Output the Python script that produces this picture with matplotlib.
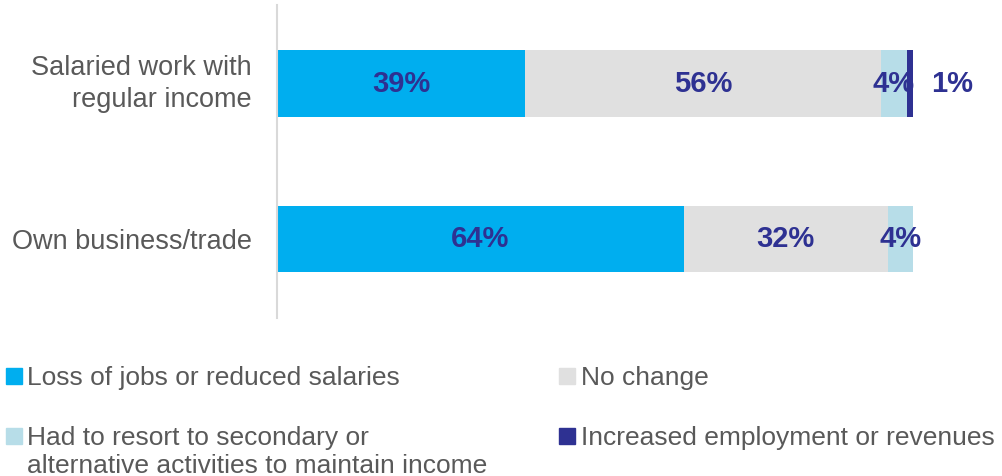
import matplotlib.pyplot as plt
from matplotlib.patches import Rectangle
from matplotlib.transforms import ScaledTranslation

categories = ['Own business/trade', 'Salaried work with\nregular income']
series_names = ['Loss of jobs or reduced salaries', 'No change',
                'Had to resort to secondary or\nalternative activities to maintain income',
                'Increased employment or revenues']
loss = [64, 39]
no_change = [32, 56]
had_to = [4, 4]
increased = [0, 1]

colors = ['#00AEEF', '#E0E0E0', '#B7DDE8', '#2E3192']
label_color = '#2E3192'
text_color = '#595959'
font = ['Liberation Sans', 'DejaVu Sans']

fig = plt.figure(figsize=(10.03, 4.76), dpi=100)
ax = fig.add_axes([277 / 1003, 1 - 318 / 476, (913 - 277) / 1003, 313 / 476])

y = [0, 1]
left = [0, 0]
all_series = [loss, no_change, had_to, increased]
for vals, col in zip(all_series, colors):
    ax.barh(y, vals, left=left, height=0.43, color=col)
    for i, (v, l) in enumerate(zip(vals, left)):
        if v == 0:
            continue
        if v < 2:
            # tiny segment: put the label outside the bar end
            ax.annotate(f'{v}%', (l + v, y[i]), xytext=(13, 0), textcoords='offset points',
                        ha='left', va='center', color=label_color, fontsize=21,
                        fontweight='bold', family=font)
        else:
            ax.text(l + v / 2, y[i], f'{v}%', ha='center', va='center', color=label_color,
                    fontsize=21, fontweight='bold', family=font)
    left = [a + b for a, b in zip(left, vals)]

ax.set_xlim(0, 100)
ax.set_ylim(-0.508, 1.505)
ax.set_yticks(y)
ax.set_yticklabels(categories, fontsize=19.5, color=text_color, family=font, linespacing=1.3)
ax.tick_params(axis='y', length=0, pad=18)
# nudge the two-line label up a bit
lab = ax.get_yticklabels()[1]
lab.set_transform(lab.get_transform() + ScaledTranslation(0, 4 / 72, fig.dpi_scale_trans))
ax.set_xticks([])
for s in ['top', 'right', 'bottom']:
    ax.spines[s].set_visible(False)
ax.spines['left'].set_color('#D9D9D9')
ax.spines['left'].set_linewidth(1.5)

# legend drawn by hand: square + text, two columns
# (square x, text x, first baseline y) in pixels
legend_pos = [(6, 27, 386), (559, 581, 386), (6, 27, 446), (559, 581, 446)]
line_step = 28
for name, col, (sx, tx, by) in zip(series_names, colors, legend_pos):
    sq = 16
    cy = by - 10
    fig.patches.append(Rectangle((sx / 1003, 1 - (cy + sq / 2) / 476), sq / 1003, sq / 476,
                                 transform=fig.transFigure, color=col))
    for k, line in enumerate(name.split('\n')):
        fig.text(tx / 1003, 1 - (by + k * line_step - 1) / 476, line, ha='left', va='baseline',
                 fontsize=19, color=text_color, family=font)

fig.savefig('out.png', dpi=100)
